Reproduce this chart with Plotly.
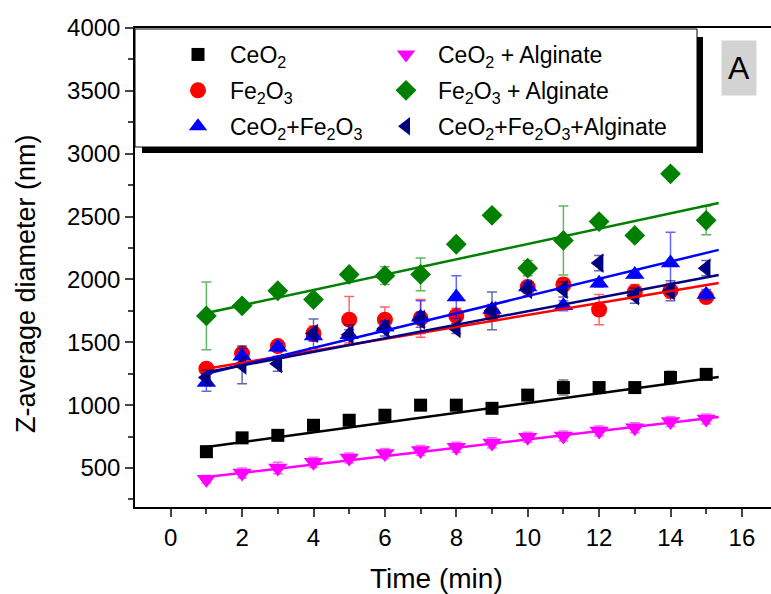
import numpy as np
import plotly.graph_objects as go

time = list(range(1, 16))

ceo2 = [630, 740, 760, 840, 880, 920, 1000, 1000, 975, 1080, 1140, 1140, 1140, 1220, 1245]
ceo2_err = [30, 30, 20, 20, 20, 20, 20, 20, 20, 30, 60, 30, 20, 50, 30]

fe2o3 = [1290, 1410, 1470, 1570, 1680, 1680, 1690, 1710, 1730, 1940, 1960, 1760, 1900, 1910, 1860]
fe2o3_err = [40, 40, 40, 60, 185, 100, 150, 60, 60, 40, 50, 120, 60, 60, 40]

mix = [1180, 1390, 1460, 1550, 1560, 1620, 1700, 1860, 1760, 1940, 1790, 1970, 2040, 2130, 1880]
mix_err = [70, 60, 30, 40, 40, 40, 130, 170, 40, 30, 40, 30, 30, 245, 40]

ceo2_alg = [410, 460, 500, 545, 580, 615, 640, 665, 700, 745, 755, 795, 820, 870, 890]
ceo2_alg_err = [30, 40, 45, 40, 40, 40, 40, 40, 40, 40, 40, 40, 40, 40, 40]

fe2o3_alg = [1710, 1790, 1910, 1840, 2040, 2030, 2040, 2280, 2510, 2090, 2310, 2460, 2350, 2840, 2470]
fe2o3_alg_err = [270, 20, 20, 20, 20, 70, 130, 20, 20, 60, 275, 20, 20, 20, 115]

mix_alg = [1220, 1320, 1330, 1570, 1560, 1610, 1680, 1610, 1750, 1920, 1920, 2130, 1870, 1910, 2090]
mix_alg_err = [60, 150, 60, 115, 80, 60, 60, 40, 150, 50, 60, 60, 60, 80, 60]

# linear fit lines: value at the start and end of each line
fit_x = [1.0, 15.35]
fit_start = [667, 1290, 1250, 429, 1733, 1262]
fit_end = [1224, 1972, 2235, 905, 2608, 2036]

series = [
    # name, y, err, color, errcolor, symbol, size, legend
    ("CeO<sub>2</sub>", ceo2, ceo2_err, "#000000", "rgba(0,0,0,0.55)", "square", 13, "legend"),
    ("Fe<sub>2</sub>O<sub>3</sub>", fe2o3, fe2o3_err, "#FF0000", "rgba(255,0,0,0.6)", "circle", 16, "legend"),
    ("CeO<sub>2</sub>+Fe<sub>2</sub>O<sub>3</sub>", mix, mix_err, "#0000FF", "rgba(0,0,255,0.6)", "triangle-up", 17, "legend"),
    ("CeO<sub>2</sub> + Alginate", ceo2_alg, ceo2_alg_err, "#FF00FF", "rgba(255,0,255,0.6)", "triangle-down", 17, "legend2"),
    ("Fe<sub>2</sub>O<sub>3</sub> + Alginate", fe2o3_alg, fe2o3_alg_err, "#008000", "rgba(0,128,0,0.6)", "diamond", 16, "legend2"),
    ("CeO<sub>2</sub>+Fe<sub>2</sub>O<sub>3</sub>+Alginate", mix_alg, mix_alg_err, "#000080", "rgba(0,0,128,0.6)", "triangle-left", 17, "legend2"),
]

FONT = "Liberation Sans, Arial, sans-serif"
fig = go.Figure()

for i, (name, y, err, col, ecol, sym, sz, lg) in enumerate(series):
    fig.add_trace(go.Scatter(
        x=time, y=y, mode="markers", name=name, legend=lg, legendgroup=str(i),
        marker=dict(symbol=sym, size=sz, color=col, line=dict(width=0)),
        error_y=dict(type="data", array=err, visible=True, color=ecol, thickness=1.5, width=5),
    ))

for i, s in enumerate(series):
    fig.add_trace(go.Scatter(x=fit_x, y=[fit_start[i], fit_end[i]], mode="lines", showlegend=False,
                             line=dict(color=s[3], width=2.5), hoverinfo="skip"))

# plot area geometry in pixels
L, R, T, B = 135, 771, 28, 507
W, H = R - L, B - T
def px(x): return (x - L) / W
def py(y): return (B - y) / H

shapes = [
    dict(type="rect", xref="paper", yref="paper", x0=px(142), x1=px(703), y0=py(153), y1=py(37),
         fillcolor="black", line=dict(width=0), layer="above"),
    dict(type="rect", xref="paper", yref="paper", x0=px(135), x1=px(697), y0=py(147), y1=py(29),
         fillcolor="white", line=dict(color="black", width=1), layer="above"),
]

fig.update_layout(
    width=771, height=594,
    margin=dict(l=L, r=771 - R, t=T, b=594 - B),
    paper_bgcolor="white", plot_bgcolor="white",
    font=dict(family=FONT, color="black"),
    shapes=shapes,
    legend=dict(x=px(166), y=py(33), xanchor="left", yanchor="top", bgcolor="rgba(0,0,0,0)",
                itemwidth=54, tracegroupgap=3, font=dict(size=23, family=FONT)),
    legend2=dict(x=px(374), y=py(33), xanchor="left", yanchor="top", bgcolor="rgba(0,0,0,0)",
                 itemwidth=54, tracegroupgap=3, font=dict(size=23, family=FONT)),
    annotations=[
        dict(text="A", xref="paper", yref="paper", x=px(739), y=py(68),
             showarrow=False, font=dict(size=32, family=FONT), bgcolor="#D3D3D3",
             width=32, height=52, xanchor="center", yanchor="middle"),
        dict(text="Time (min)", xref="paper", yref="paper", x=px(436), y=py(578),
             showarrow=False, font=dict(size=28, family=FONT), xanchor="center", yanchor="middle"),
        dict(text="Z-average diameter (nm)", xref="paper", yref="paper", x=px(26), y=py(284),
             showarrow=False, textangle=-90, font=dict(size=27, family=FONT),
             xanchor="center", yanchor="middle"),
    ],
    xaxis=dict(range=[-1, -1 + W / 35.7], tickmode="array", tickvals=list(range(0, 17, 2)),
               ticks="outside", ticklen=8, tickwidth=1.5, showline=True, linewidth=1.5,
               linecolor="black", mirror=True, showgrid=False, zeroline=False,
               minor=dict(tickvals=list(range(1, 17, 2)), ticks="outside", ticklen=5, tickwidth=1.5),
               tickfont=dict(size=24)),
    yaxis=dict(range=[190, 4000], tickmode="array", tickvals=list(range(500, 4001, 500)),
               ticks="outside", ticklen=8, tickwidth=1.5, showline=True, linewidth=1.5,
               linecolor="black", showgrid=False, zeroline=False,
               minor=dict(tickvals=list(range(250, 4000, 500)), ticks="outside", ticklen=5, tickwidth=1.5),
               tickfont=dict(size=24)),
)

fig.write_html("out.html")
